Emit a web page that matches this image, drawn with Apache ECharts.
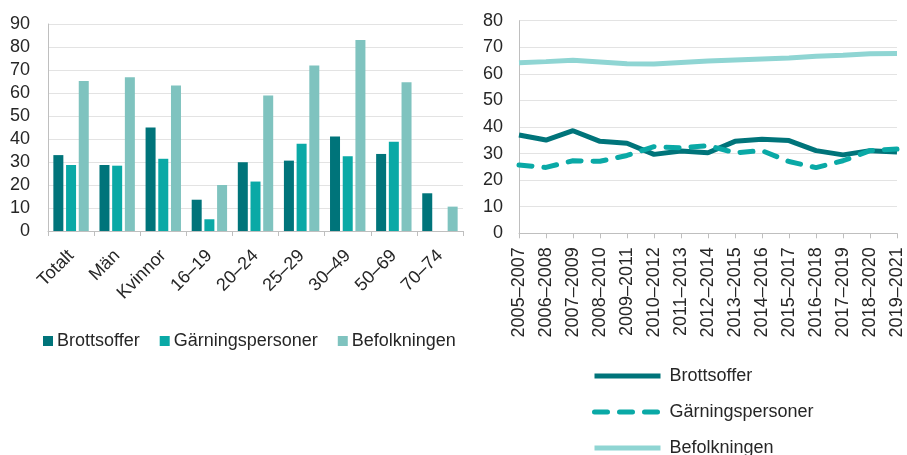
<!DOCTYPE html>
<html>
<head>
<meta charset="utf-8">
<script src="https://cdn.jsdelivr.net/npm/echarts@6/dist/echarts.min.js"></script>
<style>
  html, body { margin: 0; padding: 0; background: #fff; }
  #chart { width: 907px; height: 455px; }
</style>
</head>
<body>
<div id="chart"></div>
<script>
// vänster diagram: grupper
var groups = ['Totalt', 'Män', 'Kvinnor', '16–19', '20–24', '25–29', '30–49', '50–69', '70–74'];
var barBrottsoffer = [33, 28.7, 45, 13.6, 29.9, 30.6, 41.1, 33.5, 16.4];
var barGarning = [28.7, 28.4, 31.4, 5.1, 21.5, 37.9, 32.5, 38.8, null];
var barBefolkning = [65.2, 66.9, 63.3, 20, 58.9, 72, 83, 64.7, 10.6];

// höger diagram: treårsperioder
var periods = ['2005–2007', '2006–2008', '2007–2009', '2008–2010', '2009–2011', '2010–2012', '2011–2013',
  '2012–2014', '2013–2015', '2014–2016', '2015–2017', '2016–2018', '2017–2019', '2018–2020', '2019–2021'];
var lineBrottsoffer = [37, 35.1, 38.6, 34.6, 33.9, 29.7, 31, 30.3, 34.6, 35.4, 34.9, 31.1, 29.5, 31.1, 30.6];
var lineGarning = [25.7, 24.8, 27.3, 27.1, 29.3, 32.6, 32.2, 33, 30.3, 31.1, 27, 24.7, 27.3, 31.1, 31.7];
var lineBefolkning = [64.2, 64.6, 65.1, 64.5, 63.8, 63.7, 64.3, 64.8, 65.2, 65.6, 66, 66.6, 67, 67.6, 67.7];

var cDark = '#00747a';
var cMid = '#0aa9a6';
var cLight = '#7fc3bf';
var cLineLight = '#8fd5d3';
var txt = '#262626';
var font = 'Liberation Sans, Arial, sans-serif';

var myChart = echarts.init(document.getElementById('chart'));

// en legend per linje, så att de hamnar exakt under varandra
function lineLegend(name, top) {
  return {
    data: [name],
    left: 587,
    top: top,
    itemWidth: 66,
    itemHeight: 18,
    formatter: function (n) { return n.trim(); },
    lineStyle: { width: 5 },
    itemStyle: { opacity: 0 },
    textStyle: { fontSize: 18, color: txt, fontFamily: font, padding: [0, 0, 0, 4] }
  };
}

var option = {
  animation: false,
  textStyle: { fontFamily: font, color: txt },
  grid: [
    { left: 48, top: 24, width: 415, height: 207 },
    { left: 519, top: 20.7, width: 378, height: 212.6 }
  ],
  legend: [
    {
      // staplar
      data: ['Brottsoffer', 'Gärningspersoner', 'Befolkningen'],
      left: 38,
      top: 327,
      icon: 'rect',
      itemWidth: 10,
      itemHeight: 10,
      itemGap: 20,
      textStyle: { fontSize: 18, color: txt, fontFamily: font, padding: [0, 0, 0, -1] }
    },
    // linjer (namnen har ett mellanslag i slutet för att skilja dem från staplarna)
    lineLegend('Brottsoffer ', 362),
    lineLegend('Gärningspersoner ', 398),
    lineLegend('Befolkningen ', 434)
  ],
  xAxis: [
    {
      type: 'category',
      gridIndex: 0,
      data: groups,
      axisLine: { lineStyle: { color: '#bfbfbf', width: 1 } },
      axisTick: { show: true, length: 5, lineStyle: { color: '#bfbfbf' } },
      axisLabel: { rotate: 45, interval: 0, fontSize: 18, color: txt, margin: 22 }
    },
    {
      type: 'category',
      gridIndex: 1,
      data: periods,
      boundaryGap: false,
      axisLine: { lineStyle: { color: '#bfbfbf', width: 1 } },
      axisTick: { show: true, length: 5, interval: 0, lineStyle: { color: '#bfbfbf' } },
      axisLabel: { rotate: 90, interval: 0, fontSize: 18, color: txt, margin: 14 }
    }
  ],
  yAxis: [
    {
      type: 'value',
      gridIndex: 0,
      min: 0,
      max: 90,
      interval: 10,
      axisLine: { show: true, lineStyle: { color: '#bfbfbf' } },
      axisTick: { show: false },
      axisLabel: { fontSize: 18, color: txt, margin: 18 },
      splitLine: { lineStyle: { color: '#e3e3e3' } }
    },
    {
      type: 'value',
      gridIndex: 1,
      min: 0,
      max: 80,
      interval: 10,
      axisLine: { show: true, lineStyle: { color: '#bfbfbf' } },
      axisTick: { show: false },
      axisLabel: { fontSize: 18, color: txt, margin: 16 },
      splitLine: { lineStyle: { color: '#e3e3e3' } }
    }
  ],
  series: [
    {
      name: 'Brottsoffer', type: 'bar', xAxisIndex: 0, yAxisIndex: 0,
      barWidth: 10, barGap: '27%',
      itemStyle: { color: cDark },
      data: barBrottsoffer
    },
    {
      name: 'Gärningspersoner', type: 'bar', xAxisIndex: 0, yAxisIndex: 0,
      barWidth: 10, barGap: '27%',
      itemStyle: { color: cMid },
      data: barGarning
    },
    {
      name: 'Befolkningen', type: 'bar', xAxisIndex: 0, yAxisIndex: 0,
      barWidth: 10, barGap: '27%',
      itemStyle: { color: cLight },
      data: barBefolkning
    },
    {
      name: 'Brottsoffer ', type: 'line', xAxisIndex: 1, yAxisIndex: 1,
      symbol: 'none', showSymbol: false,
      lineStyle: { color: cDark, width: 5 },
      itemStyle: { color: cDark },
      data: lineBrottsoffer
    },
    {
      name: 'Gärningspersoner ', type: 'line', xAxisIndex: 1, yAxisIndex: 1,
      symbol: 'none', showSymbol: false,
      lineStyle: { color: cMid, width: 5, type: [13, 12], cap: 'round' },
      itemStyle: { color: cMid },
      data: lineGarning
    },
    {
      name: 'Befolkningen ', type: 'line', xAxisIndex: 1, yAxisIndex: 1,
      symbol: 'none', showSymbol: false,
      lineStyle: { color: cLineLight, width: 5 },
      itemStyle: { color: cLineLight },
      data: lineBefolkning
    }
  ]
};

myChart.setOption(option);
window.addEventListener('resize', function () { myChart.resize(); });
</script>
</body>
</html>
